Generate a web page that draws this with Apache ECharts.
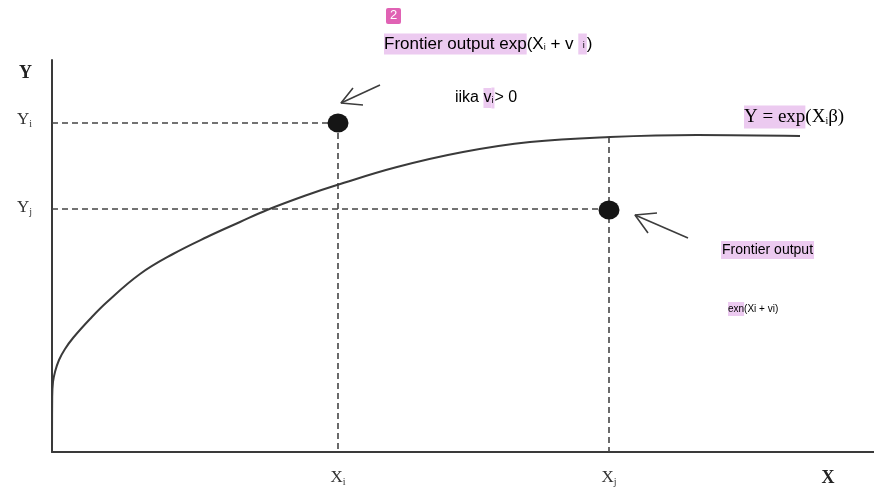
<!DOCTYPE html>
<html>
<head>
<meta charset="utf-8">
<script src="https://cdn.jsdelivr.net/npm/echarts@6/dist/echarts.min.js"></script>
<style>
  html, body { margin: 0; padding: 0; background: #fff; }
  #chart { width: 874px; height: 496px; }
</style>
</head>
<body>
<div id="chart"></div>
<script>
// frontier curve Y = exp(X·β) (x right, y up)
const frontierX = [0, 0.2, 1, 3, 7, 13, 21, 38, 55, 88, 121, 155, 188, 215, 255, 285, 345, 411, 478, 558, 645, 748];
const frontierY = [0, 55, 70, 80, 92, 103, 114, 133, 150, 178, 198, 215, 230, 242, 257, 267, 285, 300, 310, 315, 317, 316];

// observed firms
const firmX = [286, 557];
const firmY = [329, 242];

// dashed guides
const guideYiX = [0, 286];
const guideYiY = [329, 329];
const guideXiX = [286, 286];
const guideXiY = [329, 0];
const guideYjX = [0, 557];
const guideYjY = [243, 243];
const guideXjX = [557, 557];
const guideXjY = [315, 0];

// arrows: shaft (tail -> tip) and head (end -> tip -> end)
const arrow1ShaftX = [328, 289];
const arrow1ShaftY = [367, 349];
const arrow1HeadX = [301, 289, 311];
const arrow1HeadY = [364, 349, 347];
const arrow2ShaftX = [636, 583];
const arrow2ShaftY = [214, 237];
const arrow2HeadX = [605, 583, 596];
const arrow2HeadY = [239, 237, 219];

// tick labels
const xTickValues = [286, 557, 776];
const xTickLabels = ['{m|X}{s|i}', '{m|X}{s|j}', '{b|X}'];
const yTickValues = [379, 332, 244];
const yTickLabels = ['{b|Y}', '{m|Y}{s|i}', '{m|Y}{s|j}'];

const pairs = (xs, ys) => xs.map((x, i) => [x, ys[i]]);

const ink = '#333';
const pink = '#eccaf0';
const serif = '"Liberation Serif", "DejaVu Serif", serif';
const narrow = '"Liberation Sans Narrow", "Liberation Sans", Arial, sans-serif';

const tickRich = {
  m: { fontFamily: serif, fontSize: 17, color: ink },
  s: { fontFamily: serif, fontSize: 10, color: ink, verticalAlign: 'bottom', padding: [8, 0, 0, 0] },
  b: { fontFamily: serif, fontSize: 18, fontWeight: 'bold', color: '#222' }
};

const chart = echarts.init(document.getElementById('chart'));

const dashed = (xs, ys) => ({
  type: 'line',
  data: pairs(xs, ys),
  symbol: 'none',
  silent: true,
  z: 1,
  lineStyle: { color: '#444', width: 1.6, type: [6, 4] }
});
const solid = (xs, ys, w) => ({
  type: 'line',
  data: pairs(xs, ys),
  symbol: 'none',
  silent: true,
  lineStyle: { color: '#3d3d3d', width: w }
});

chart.setOption({
  backgroundColor: '#fff',
  animation: false,
  grid: { left: 52, right: 0, top: 60, bottom: 44 },
  xAxis: {
    type: 'value',
    min: 0,
    max: 822,
    splitLine: { show: false },
    axisTick: { show: false },
    axisLine: { lineStyle: { color: '#3a3a3a', width: 2 } },
    axisLabel: {
      customValues: xTickValues,
      margin: 17,
      formatter: v => xTickLabels[xTickValues.indexOf(v)] || '',
      rich: tickRich
    }
  },
  yAxis: {
    type: 'value',
    min: 0,
    max: 392,
    splitLine: { show: false },
    axisTick: { show: false },
    axisLine: { lineStyle: { color: '#3a3a3a', width: 2 } },
    axisLabel: {
      customValues: yTickValues,
      margin: 20,
      formatter: v => yTickLabels[yTickValues.indexOf(v)] || '',
      rich: tickRich
    }
  },
  series: [
    dashed(guideYiX, guideYiY),
    dashed(guideXiX, guideXiY),
    dashed(guideYjX, guideYjY),
    dashed(guideXjX, guideXjY),
    {
      type: 'line',
      data: pairs(frontierX, frontierY),
      symbol: 'none',
      smooth: 0.4,
      silent: true,
      lineStyle: { color: '#3a3a3a', width: 2 }
    },
    solid(arrow1ShaftX, arrow1ShaftY, 1.6),
    solid(arrow1HeadX, arrow1HeadY, 1.6),
    solid(arrow2ShaftX, arrow2ShaftY, 1.6),
    solid(arrow2HeadX, arrow2HeadY, 1.6),
    {
      type: 'scatter',
      data: pairs(firmX, firmY),
      symbol: 'circle',
      symbolSize: [21, 19],
      silent: true,
      z: 10,
      itemStyle: { color: '#151515', opacity: 1 }
    }
  ],
  graphic: [
    {
      type: 'rect',
      shape: { x: 386, y: 8, width: 15, height: 16, r: 2 },
      style: { fill: '#e062b4' }
    },
    {
      type: 'text',
      x: 390, y: 9,
      style: { text: '2', fill: '#fff', font: '13px "Liberation Sans", sans-serif' }
    },
    {
      type: 'text',
      x: 384, y: 44,
      style: {
        text: '{h|Frontier output exp}{n|(X}{s|i}{n| + v }{hs| i}{n|)}',
        verticalAlign: 'middle',
        rich: {
          h: { fontFamily: narrow, fontSize: 17, color: ink, backgroundColor: pink, padding: [2, 0, 2, 0] },
          n: { fontFamily: narrow, fontSize: 17, color: ink },
          s: { fontFamily: narrow, fontSize: 9, color: ink, padding: [8, 0, 0, 0] },
          hs: { fontFamily: narrow, fontSize: 9, color: ink, backgroundColor: pink, padding: [8, 2, 4, 2] }
        }
      }
    },
    {
      type: 'text',
      x: 455, y: 98,
      style: {
        text: '{n|iika }{h|v}{hs|i}{n|> 0}',
        verticalAlign: 'middle',
        rich: {
          n: { fontFamily: narrow, fontSize: 16, color: ink },
          h: { fontFamily: narrow, fontSize: 16, color: ink, backgroundColor: pink, padding: [2, 0, 2, 0] },
          hs: { fontFamily: narrow, fontSize: 9, color: ink, backgroundColor: pink, padding: [9, 1, 3, 0] }
        }
      }
    },
    {
      type: 'text',
      x: 744, y: 117,
      style: {
        text: '{h|Y = exp}{n|(X}{s|i}{n|β)}',
        verticalAlign: 'middle',
        rich: {
          h: { fontFamily: serif, fontSize: 19, color: ink, backgroundColor: pink, padding: [2, 0, 2, 0] },
          n: { fontFamily: serif, fontSize: 19, color: ink },
          s: { fontFamily: serif, fontSize: 10, color: ink, padding: [8, 0, 0, 0] }
        }
      }
    },
    {
      type: 'text',
      x: 721, y: 250,
      style: {
        text: '{h|Frontier output}',
        verticalAlign: 'middle',
        rich: {
          h: { fontFamily: narrow, fontSize: 14, color: ink, backgroundColor: pink, padding: [2, 1, 2, 1] }
        }
      }
    },
    {
      type: 'text',
      x: 728, y: 309,
      style: {
        text: '{h|exn}{n|(Xi + vi)}',
        verticalAlign: 'middle',
        rich: {
          h: { fontFamily: narrow, fontSize: 10, color: ink, backgroundColor: pink, padding: [2, 0, 2, 0] },
          n: { fontFamily: narrow, fontSize: 10, color: ink }
        }
      }
    }
  ]
});
</script>
</body>
</html>
